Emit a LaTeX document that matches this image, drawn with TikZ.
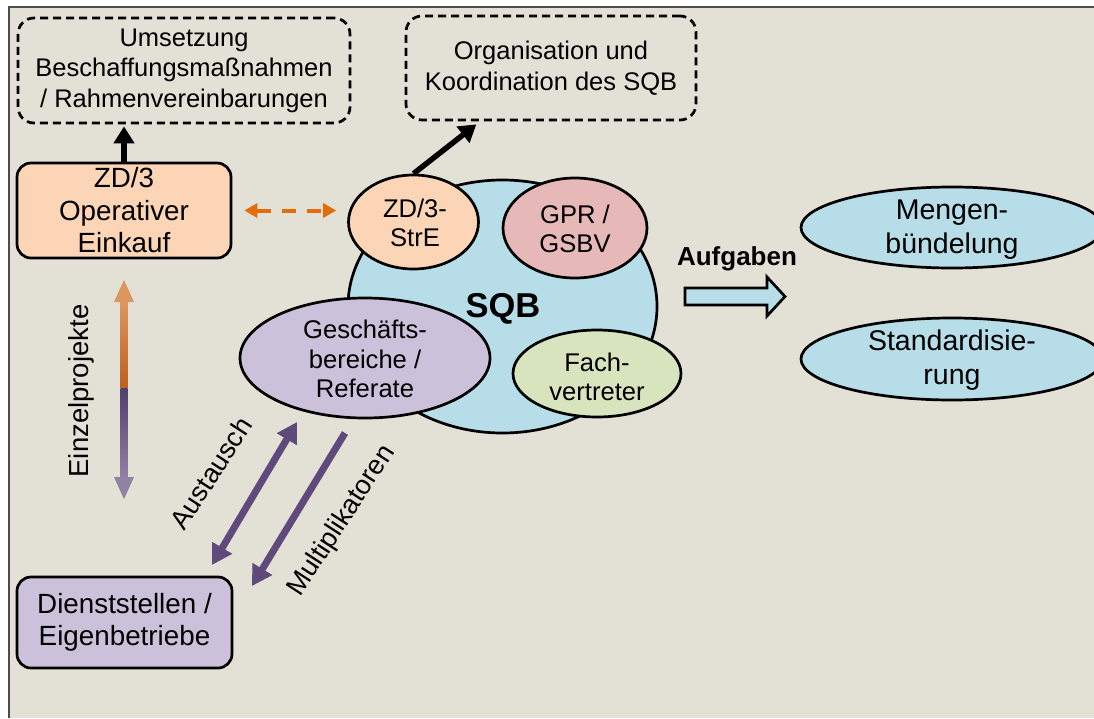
\documentclass[tikz,border=0pt]{standalone}
\usepackage{fontspec}
\setmainfont{Liberation Sans}
\usetikzlibrary{shapes.geometric,arrows.meta,calc}
\definecolor{bg}{RGB}{227,224,214}
\definecolor{peach}{RGB}{251,213,181}
\definecolor{lblue}{RGB}{183,221,232}
\definecolor{pink}{RGB}{230,185,184}
\definecolor{lav}{RGB}{204,193,218}
\definecolor{lgreen}{RGB}{215,228,189}
\definecolor{pu}{RGB}{96,74,123}
\definecolor{orng}{RGB}{228,108,10}
\definecolor{orA}{RGB}{222,150,95}
\definecolor{orB}{RGB}{190,95,30}
\definecolor{puA}{RGB}{80,62,108}
\definecolor{puB}{RGB}{145,130,165}
\newcommand\fsz[2]{\fontsize{#1}{#2}\selectfont}
\begin{document}
\begin{tikzpicture}[x=1pt,y=-1pt,
  dashbox/.style={draw, line width=2.7pt, dash pattern=on 8pt off 5pt, rounded corners=16pt, align=center, inner sep=0pt, font=\fsz{25.5}{30.5}},
  solidbox/.style={draw, line width=2.7pt, rounded corners=14pt, align=center, inner sep=0pt, font=\fsz{27.8}{32.5}},
  ell/.style={draw, ellipse, line width=2.7pt, inner sep=0pt},
  txt/.style={align=center, inner sep=0pt, font=\fsz{25.6}{29.5}},
  bigtxt/.style={align=center, inner sep=0pt, font=\fsz{28.5}{34}},
  blk/.style={line width=5.5pt, -{Triangle[width=20pt,length=17pt]}},
  puarrow/.style={pu, line width=7pt}
]
\useasboundingbox (0,0) rectangle (1094,718);
\fill[white] (0,0) rectangle (1094,718);
\fill[bg] (9,7) rectangle (1094,718);
\draw[line width=1.5pt, black!70] (9,718) -- (9,7) -- (1094,7);

% top dashed boxes
\node[dashbox, minimum width=332pt, minimum height=105pt] (ums) at (184,70.5) {Umsetzung\\Beschaffungsmaßnahmen\\/ Rahmenvereinbarungen};
\node[dashbox, minimum width=290pt, minimum height=104pt] (org) at (551,68) {Organisation und\\Koordination des SQB};

% left boxes
\node[solidbox, fill=peach, minimum width=214pt, minimum height=95pt] (ek) at (124,210.5) {ZD/3\\Operativer\\Einkauf};
\node[solidbox, fill=lav, minimum width=215pt, minimum height=91pt] (dst) at (124.5,622.5) {Dienststellen /\\Eigenbetriebe};

% SQB cluster
\node[ell, fill=lblue, minimum width=309pt, minimum height=253pt] (sqb) at (502.5,306.5) {};
\node[font=\fsz{34.5}{38}\bfseries, inner sep=0pt] (sqbt) at (503,309) {SQB};
\node[ell, fill=peach, minimum width=130pt, minimum height=94pt] (stre) at (413.5,222) {};
\node[txt] at ($(stre.center)+(1.5,1)$) {ZD/3-\\StrE};
\node[ell, fill=pink, minimum width=144pt, minimum height=100pt] (gpr) at (575,228) {};
\node[txt] at ($(gpr.center)+(0,1)$) {GPR /\\GSBV};
\node[ell, fill=lav, minimum width=250pt, minimum height=120pt] (ges) at (365,358) {};
\node[txt] at ($(ges.center)+(0,1)$) {Geschäfts-\\bereiche /\\Referate};
\node[ell, fill=lgreen, minimum width=168pt, minimum height=87pt] (fach) at (597,373.5) {};
\node[txt] at ($(fach.center)+(0,3.5)$) {Fach-\\vertreter};

% right ellipses
\node[ell, fill=lblue, minimum width=302pt, minimum height=81pt] (meng) at (952,227.5) {};
\node[bigtxt] at ($(meng.center)+(0,2.5)$) {Mengen-\\bündelung};
\node[ell, fill=lblue, minimum width=302pt, minimum height=82pt] (std) at (952,359) {};
\node[bigtxt] at ($(std.center)+(0,1.5)$) {Standardisie-\\rung};

% Aufgaben block arrow
\node[font=\fsz{26}{29}\bfseries, inner sep=0pt] (auf) at (737,259) {Aufgaben};
\draw[line width=2.7pt, fill=lblue, line join=miter] (685,288) -- (767,288) -- (767,277) -- (785,296.5) -- (767,316) -- (767,305) -- (685,305) -- cycle;

% black arrows
\draw[blk] (ek.north) -- ($(ek.north |- ums.south)+(0,2)$);
\draw[blk] (stre.north) -- ($(org.south west)!0.245!(org.south east)+(0,3)$);

% orange dashed double arrow
\draw[orng, line width=4pt, dash pattern=on 14pt off 11pt, shorten <=12pt, shorten >=11pt,
  {Triangle[width=14pt,length=13pt]}-{Triangle[width=14pt,length=13pt]}] (ek.east) -- (stre.west |- ek.east);

% Einzelprojekte gradient double arrow
\coordinate (ep1) at (124,280);
\coordinate (ep2) at (124,499);
\shade[top color=orA, bottom color=orB] ($(ep1)+(-3.5,21)$) rectangle ($(ep1)+(3.5,108)$);
\shade[top color=puA, bottom color=puB] ($(ep1)+(-3.5,108)$) rectangle ($(ep2)+(3.5,-21)$);
\fill[orA] (ep1) -- ++(10,22) -- ++(-20,0) -- cycle;
\fill[puB] (ep2) -- ++(10,-22) -- ++(-20,0) -- cycle;
\node[rotate=90, font=\fsz{27.5}{30}, inner sep=0pt] (ept) at (81,391) {Einzelprojekte};

% Austausch / Multiplikatoren
\coordinate (aus1) at (297,422);
\coordinate (aus2) at (212,565);
\coordinate (mul1) at (345,433);
\coordinate (mul2) at (252,586);
\draw[puarrow, {Triangle[width=22pt,length=20pt]}-{Triangle[width=22pt,length=20pt]}] (aus1) -- (aus2);
\draw[puarrow, -{Triangle[width=22pt,length=20pt]}] (mul1) -- (mul2);
\node[rotate=57, font=\fsz{27}{30}, inner sep=0pt] (aust) at (211,473) {Austausch};
\node[rotate=57, font=\fsz{27}{30}, inner sep=0pt] (multt) at (342,521) {Multiplikatoren};
\end{tikzpicture}
\end{document}
